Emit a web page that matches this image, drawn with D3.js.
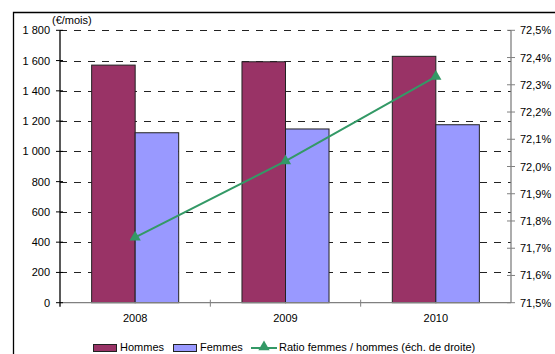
<!DOCTYPE html>
<html>
<head>
<meta charset="utf-8">
<script src="https://cdn.jsdelivr.net/npm/d3@7"></script>
<style>
  body { margin: 0; background: #fff; }
  svg text { font-family: "Liberation Sans", Arial, sans-serif; font-size: 11px; fill: #000; }
</style>
</head>
<body>
<svg id="chart" width="555" height="354"></svg>
<script>
// data
var years = ["2008", "2009", "2010"];
var hommes = [1570, 1592, 1628];
var femmes = [1123, 1148, 1176];
var ratio = [71.74, 72.02, 72.33];
var leftTicks = [0, 200, 400, 600, 800, 1000, 1200, 1400, 1600, 1800];
var rightTicks = [71.5, 71.6, 71.7, 71.8, 71.9, 72.0, 72.1, 72.2, 72.3, 72.4, 72.5];

var colHommes = "#993366", colFemmes = "#9999ff", colRatio = "#339966";

var fr = d3.formatLocale({decimal: ",", thousands: " ", grouping: [3], currency: ["", "€"]});
var fmtLeft = fr.format(",.0f");
var fmtRight = function(d) { return fr.format(".1f")(d) + "%"; };

var svg = d3.select("#chart");
var plot = {left: 60, right: 511, top: 30.3, bottom: 302.7};

var x = d3.scaleBand().domain(years).range([plot.left, plot.right])
  .paddingInner(0.421).paddingOuter(0.2105);
var xSub = d3.scaleBand().domain(["h", "f"]).range([0, x.bandwidth()]);
var yL = d3.scaleLinear().domain([0, 1800]).range([plot.bottom, plot.top]);
var yR = d3.scaleLinear().domain([71.5, 72.5]).range([plot.bottom, plot.top]);

// outer frame (only top and left are visible)
svg.append("path")
  .attr("d", "M13.5,360 L13.5,12.5 L560,12.5")
  .attr("fill", "none").attr("stroke", "#000").attr("stroke-width", 1.3);

// gridlines
svg.append("g").selectAll("line")
  .data(leftTicks.filter(function(d) { return d > 0; }))
  .enter().append("line")
    .attr("x1", plot.left).attr("x2", plot.right)
    .attr("y1", function(d) { return Math.round(yL(d)) + 0.5; })
    .attr("y2", function(d) { return Math.round(yL(d)) + 0.5; })
    .attr("stroke", "#222").attr("stroke-dasharray", "7,7");

// bars
var groups = svg.append("g").selectAll("g")
  .data(years).enter().append("g")
    .attr("transform", function(d) { return "translate(" + x(d) + ",0)"; });

groups.append("rect")
  .attr("x", xSub("h")).attr("width", xSub.bandwidth())
  .attr("y", function(d, i) { return yL(hommes[i]); })
  .attr("height", function(d, i) { return yL(0) - yL(hommes[i]); })
  .attr("fill", colHommes).attr("stroke", "#222").attr("stroke-width", 1);

groups.append("rect")
  .attr("x", xSub("f")).attr("width", xSub.bandwidth())
  .attr("y", function(d, i) { return yL(femmes[i]); })
  .attr("height", function(d, i) { return yL(0) - yL(femmes[i]); })
  .attr("fill", colFemmes).attr("stroke", "#222").attr("stroke-width", 1);

// x axis line + ticks at category boundaries
svg.append("line")
  .attr("x1", plot.left).attr("x2", plot.right)
  .attr("y1", plot.bottom).attr("y2", plot.bottom)
  .attr("stroke", "#808080").attr("stroke-width", 1.3);

svg.append("g").selectAll("line")
  .data(years.slice(1)).enter().append("line")
    .attr("x1", function(d) { return x(d) - x.step() * x.paddingInner() / 2; })
    .attr("x2", function(d) { return x(d) - x.step() * x.paddingInner() / 2; })
    .attr("y1", plot.bottom - 3).attr("y2", plot.bottom + 4)
    .attr("stroke", "#808080").attr("stroke-width", 1);

svg.append("g").selectAll("text")
  .data(years).enter().append("text")
    .attr("x", function(d) { return x(d) + x.bandwidth() / 2; })
    .attr("y", 322)
    .attr("text-anchor", "middle")
    .text(function(d) { return d; });

// left axis
var gL = svg.append("g").attr("transform", "translate(" + plot.left + ",0)");
gL.append("line").attr("y1", plot.top).attr("y2", plot.bottom + 4)
  .attr("stroke", "#000").attr("stroke-width", 1.3);
gL.selectAll(".tk").data(leftTicks).enter().append("line")
  .attr("x1", -4).attr("x2", 3)
  .attr("y1", function(d) { return yL(d); }).attr("y2", function(d) { return yL(d); })
  .attr("stroke", "#000");
gL.selectAll("text").data(leftTicks).enter().append("text")
  .attr("x", -10).attr("y", function(d) { return yL(d) + 4; })
  .attr("text-anchor", "end")
  .text(fmtLeft);
svg.append("text").attr("x", 52).attr("y", 24).text("(€/mois)");

// right axis
var gR = svg.append("g").attr("transform", "translate(" + plot.right + ",0)");
gR.append("line").attr("y1", plot.top).attr("y2", plot.bottom)
  .attr("stroke", "#808080").attr("stroke-width", 1.3);
gR.selectAll(".tk").data(rightTicks).enter().append("line")
  .attr("x1", -4).attr("x2", 4)
  .attr("y1", function(d) { return yR(d); }).attr("y2", function(d) { return yR(d); })
  .attr("stroke", "#808080");
gR.selectAll("text").data(rightTicks).enter().append("text")
  .attr("x", 9).attr("y", function(d) { return yR(d) + 4; })
  .text(fmtRight);

// ratio line
var cx = function(d, i) { return x(years[i]) + x.bandwidth() / 2; };
var line = d3.line().x(function(d, i) { return cx(d, i); }).y(function(d) { return yR(d); });
svg.append("path").datum(ratio)
  .attr("d", line).attr("fill", "none")
  .attr("stroke", colRatio).attr("stroke-width", 2);
var tri = d3.symbol().type(d3.symbolTriangle).size(55);
svg.append("g").selectAll("path")
  .data(ratio).enter().append("path")
    .attr("d", tri)
    .attr("transform", function(d, i) { return "translate(" + cx(d, i) + "," + yR(d) + ")"; })
    .attr("fill", colRatio);

// legend
var leg = svg.append("g");
leg.append("rect").attr("x", 93.5).attr("y", 344.5).attr("width", 23).attr("height", 7)
  .attr("fill", colHommes).attr("stroke", "#222");
leg.append("text").attr("x", 120).attr("y", 351).text("Hommes");
leg.append("rect").attr("x", 173.5).attr("y", 344.5).attr("width", 23).attr("height", 7)
  .attr("fill", colFemmes).attr("stroke", "#222");
leg.append("text").attr("x", 200).attr("y", 351).text("Femmes");
leg.append("line").attr("x1", 251).attr("x2", 277).attr("y1", 348).attr("y2", 348)
  .attr("stroke", colRatio).attr("stroke-width", 2);
leg.append("path").attr("d", tri).attr("transform", "translate(264,347)").attr("fill", colRatio);
leg.append("text").attr("x", 279).attr("y", 351).text("Ratio femmes / hommes (éch. de droite)");
</script>
</body>
</html>
